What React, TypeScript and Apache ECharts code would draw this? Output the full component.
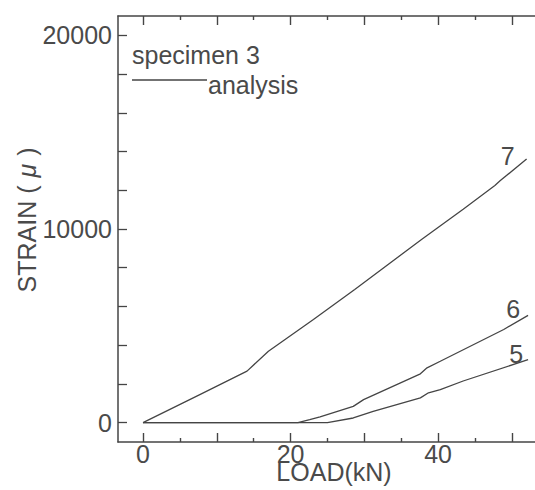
import React, { useEffect, useRef } from "react";
import * as echarts from "echarts";

const xLabelValues = [0, 20, 40];
const yTickValues = [0, 2000, 4000, 6000, 8000, 10000, 12000, 14000, 16000, 18000, 20000];
const yLabelValues = [0, 10000, 20000];

const gauge7: [number, number][] = [
  [0, 0], [7.7, 1450], [14.1, 2660], [17, 3690], [23.1, 5330], [28.7, 6880],
  [37.8, 9470], [43.4, 11020], [47.7, 12250], [48.4, 12490], [52, 13610],
];
const gauge6: [number, number][] = [
  [0, 0], [21, 0], [22.6, 150], [24, 300], [28.5, 840], [29.9, 1190],
  [37.6, 2520], [38.5, 2830], [40.3, 3170], [48.9, 4810], [52.2, 5540],
];
const gauge5: [number, number][] = [
  [0, 0], [25, 0], [28.5, 240], [31.2, 580], [37.6, 1280], [38.7, 1540],
  [40.3, 1710], [43.4, 2150], [52.2, 3250],
];
const gaugeNames = ["7", "6", "5"];

const FONT = "'Liberation Sans', Arial, Helvetica, sans-serif";
const TEXT = "#4a4a4a";
const LINE = "#454545";
const X_MIN = -3.39;
const X_MAX = 54.9;
const Y_MIN = -1000;
const Y_MAX = 21000;
const GRID_LEFT = 118;
const GRID_TOP = 16;
const GRID_W = 430;
const GRID_H = 426;
const PX_PER_X = GRID_W / (X_MAX - X_MIN);

export default function App() {
  const ref = useRef<HTMLDivElement>(null);
  useEffect(() => {
    if (!ref.current) return;
    const chart = echarts.init(ref.current, null, { renderer: "svg" });
    const mkSeries = (name: string, data: [number, number][], off: number[]) => ({
      type: "line" as const,
      name,
      data,
      xAxisIndex: 0,
      yAxisIndex: 0,
      showSymbol: false,
      symbol: "none",
      lineStyle: { color: LINE, width: 1.3 },
      endLabel: {
        show: true,
        formatter: "{a}",
        align: "center",
        verticalAlign: "middle",
        distance: 0,
        offset: off,
        fontSize: 25,
        fontFamily: FONT,
        color: TEXT,
      },
    });
    // a second grid, starting exactly at x = 0 with the same scale, carries the x tick marks
    const tickAxis = (position: "top" | "bottom") => ({
      type: "value",
      gridIndex: 1,
      position,
      min: 0,
      max: X_MAX,
      interval: 10,
      splitLine: { show: false },
      axisLine: { show: false, onZero: false },
      axisTick: { show: true, inside: true, length: 9, lineStyle: { color: LINE, width: 1.4 } },
      minorTick: { show: true, splitNumber: 2, length: 4, lineStyle: { color: LINE, width: 1.4 } },
      axisLabel: { show: false },
    });
    chart.setOption({
      animation: false,
      backgroundColor: "#ffffff",
      grid: [
        {
          left: GRID_LEFT,
          top: GRID_TOP,
          width: GRID_W,
          height: GRID_H,
          containLabel: false,
          outerBoundsMode: "none",
        },
        {
          left: GRID_LEFT + (0 - X_MIN) * PX_PER_X,
          top: GRID_TOP,
          width: (X_MAX - 0) * PX_PER_X,
          height: GRID_H,
          containLabel: false,
          outerBoundsMode: "none",
        },
      ],
      xAxis: [
        {
          type: "value",
          gridIndex: 0,
          min: X_MIN,
          max: X_MAX,
          position: "bottom",
          splitLine: { show: false },
          axisLine: { show: true, onZero: false, lineStyle: { color: LINE, width: 1.5 } },
          axisTick: { show: false },
          axisLabel: {
            show: true,
            customValues: xLabelValues,
            margin: 4,
            lineHeight: 16,
            fontSize: 25,
            fontFamily: FONT,
            color: TEXT,
            formatter: (v: number) => String(v),
          },
        },
        {
          type: "value",
          gridIndex: 0,
          min: X_MIN,
          max: X_MAX,
          position: "top",
          splitLine: { show: false },
          axisLine: { show: true, onZero: false, lineStyle: { color: LINE, width: 1.5 } },
          axisTick: { show: false },
          axisLabel: { show: false },
        },
        tickAxis("bottom"),
        tickAxis("top"),
      ],
      yAxis: [
        {
          type: "value",
          gridIndex: 0,
          min: Y_MIN,
          max: Y_MAX,
          position: "left",
          splitLine: { show: false },
          axisLine: { show: true, onZero: false, lineStyle: { color: LINE, width: 1.5 } },
          axisTick: { show: true, inside: true, length: 9, customValues: yTickValues, lineStyle: { color: LINE, width: 1.3 } },
          axisLabel: {
            show: true,
            customValues: yLabelValues,
            margin: 6,
            fontSize: 25,
            fontFamily: FONT,
            color: TEXT,
            formatter: (v: number) => String(v),
          },
        },
        {
          type: "value",
          gridIndex: 0,
          min: Y_MIN,
          max: Y_MAX,
          position: "right",
          splitLine: { show: false },
          axisLine: { show: true, onZero: false, lineStyle: { color: LINE, width: 1.5 } },
          axisTick: { show: false },
          axisLabel: { show: false },
        },
        {
          type: "value",
          gridIndex: 1,
          min: Y_MIN,
          max: Y_MAX,
          show: false,
        },
      ],
      series: [
        mkSeries(gaugeNames[0], gauge7, [-19, -3]),
        mkSeries(gaugeNames[1], gauge6, [-15, -6]),
        mkSeries(gaugeNames[2], gauge5, [-12, -6]),
      ],
      graphic: [
        {
          type: "text",
          x: 132,
          y: 55,
          style: { text: "specimen 3", font: `25px ${FONT}`, fill: TEXT, align: "left", verticalAlign: "middle" },
        },
        {
          type: "line",
          shape: { x1: 132, y1: 80, x2: 207, y2: 80 },
          style: { stroke: LINE, lineWidth: 1.3 },
        },
        {
          type: "text",
          x: 208,
          y: 85,
          style: { text: "analysis", font: `25px ${FONT}`, fill: TEXT, align: "left", verticalAlign: "middle" },
        },
        {
          type: "text",
          x: 334,
          y: 472,
          style: {
            text: "LOAD(kN)",
            font: `25px ${FONT}`,
            fill: TEXT,
            align: "center",
            verticalAlign: "middle",
            lineHeight: 16,
          },
        },
        {
          type: "text",
          x: 27,
          y: 220,
          rotation: Math.PI / 2,
          style: {
            text: "STRAIN ({m|μ})",
            font: `25px ${FONT}`,
            fill: TEXT,
            align: "center",
            verticalAlign: "middle",
            rich: { m: { fontSize: 25, fontFamily: FONT, fontStyle: "italic", padding: [0, 8], fill: TEXT } },
          },
        },
      ],
    });
    return () => chart.dispose();
  }, []);
  return (
    <div
      ref={ref}
      style={{ position: "absolute", left: 0, top: 0, width: 535, height: 490, background: "#fff" }}
    />
  );
}
